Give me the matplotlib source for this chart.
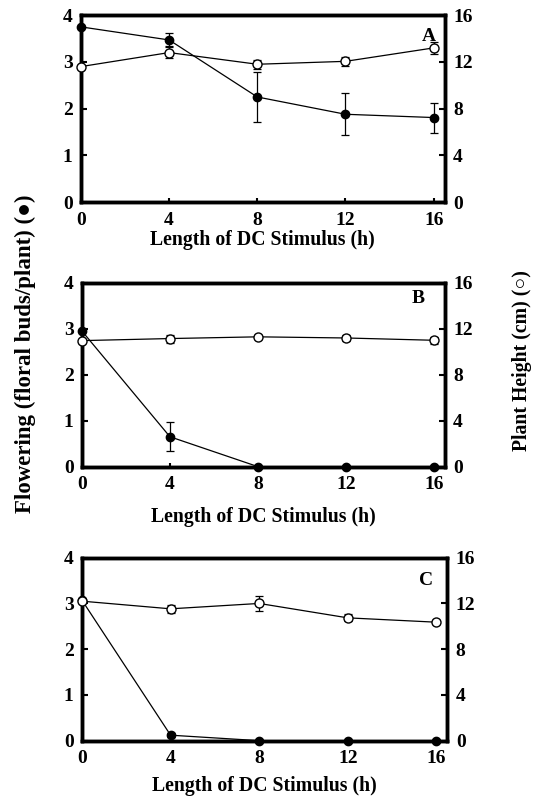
import matplotlib
matplotlib.use("Agg")
import matplotlib.pyplot as plt

plt.rcParams['font.family'] = ['Liberation Serif', 'DejaVu Serif']
plt.rcParams['font.weight'] = 'bold'

hours = [0, 4, 8, 12, 16]
x_ticks = [0, 4, 8, 12, 16]
left_ticks = [0, 1, 2, 3, 4]
right_ticks = [0, 4, 8, 12, 16]

# Panel A
flower_A = [3.75, 3.47, 2.25, 1.88, 1.81]
flower_A_err = [0.0, 0.14, 0.54, 0.45, 0.32]
height_A = [11.6, 12.8, 11.8, 12.05, 13.2]
height_A_err = [0.0, 0.45, 0.4, 0.4, 0.5]

# Panel B
flower_B = [2.95, 0.65, 0.0, 0.0, 0.0]
flower_B_err = [0.0, 0.32, 0.0, 0.0, 0.0]
height_B = [10.97, 11.15, 11.3, 11.2, 11.0]
height_B_err = [0.0, 0.35, 0.2, 0.3, 0.3]

# Panel C
flower_C = [3.07, 0.12, 0.0, 0.0, 0.0]
flower_C_err = [0.0, 0.05, 0.0, 0.0, 0.0]
height_C = [12.2, 11.53, 12.0, 10.74, 10.36]
height_C_err = [0.0, 0.35, 0.65, 0.3, 0.2]

panels = [
    ("A", flower_A, flower_A_err, height_A, height_A_err, [0.149, 0.747, 0.670, 0.234], (0.975, 0.93), 1),
    ("B", flower_B, flower_B_err, height_B, height_B_err, [0.151, 0.416, 0.668, 0.230], (0.945, 0.96), 10),
    ("C", flower_C, flower_C_err, height_C, height_C_err, [0.151, 0.073, 0.673, 0.229], (0.96, 0.92), 6.5),
]

fig = plt.figure(figsize=(5.43, 7.99), dpi=100)

for label, fl, fle, ht, hte, pos, lpos, lpad in panels:
    ax = fig.add_axes(pos)
    ax2 = ax.twinx()
    ax.errorbar(hours, fl, yerr=fle, color='black', marker='o', markersize=6,
                markerfacecolor='black', markeredgecolor='black', lw=0.9,
                elinewidth=0.9, capsize=3, capthick=0.9, zorder=3, clip_on=False)
    ax2.errorbar(hours, ht, yerr=hte, color='black', marker='o', markersize=6.5,
                 markerfacecolor='white', markeredgecolor='black', lw=0.9,
                 elinewidth=0.9, capsize=3, capthick=0.9, zorder=3, clip_on=False)
    ax.set_xlim(0, 16.5)
    ax.set_ylim(0, 4)
    ax2.set_ylim(0, 16)
    ax.set_xticks(x_ticks)
    ax.set_yticks(left_ticks)
    ax2.set_yticks(right_ticks)
    for a in (ax, ax2):
        for s in a.spines.values():
            s.set_linewidth(2.5)
        a.tick_params(direction='in', length=4, width=1.5, labelsize=14, pad=6)
    ax.tick_params(axis='x', direction='in', length=3, pad=7)
    for t in ax.get_xticklabels() + ax.get_yticklabels() + ax2.get_yticklabels():
        t.set_fontweight('bold')
    ax.set_xlabel("Length of DC Stimulus (h)", fontsize=14.2, fontweight='bold', labelpad=lpad)
    ax.text(lpos[0], lpos[1], label, transform=ax.transAxes, ha='right', va='top',
            fontsize=14, fontweight='bold')

fig.text(0.046, 0.557, "Flowering (floral buds/plant) (\u25CF)", rotation=90,
         ha='center', va='center', fontsize=16.5, fontweight='bold')
fig.text(0.962, 0.549, "Plant Height (cm) (\u25CB)", rotation=90,
         ha='center', va='center', fontsize=14.2, fontweight='bold')

fig.savefig("out.png", dpi=100)
